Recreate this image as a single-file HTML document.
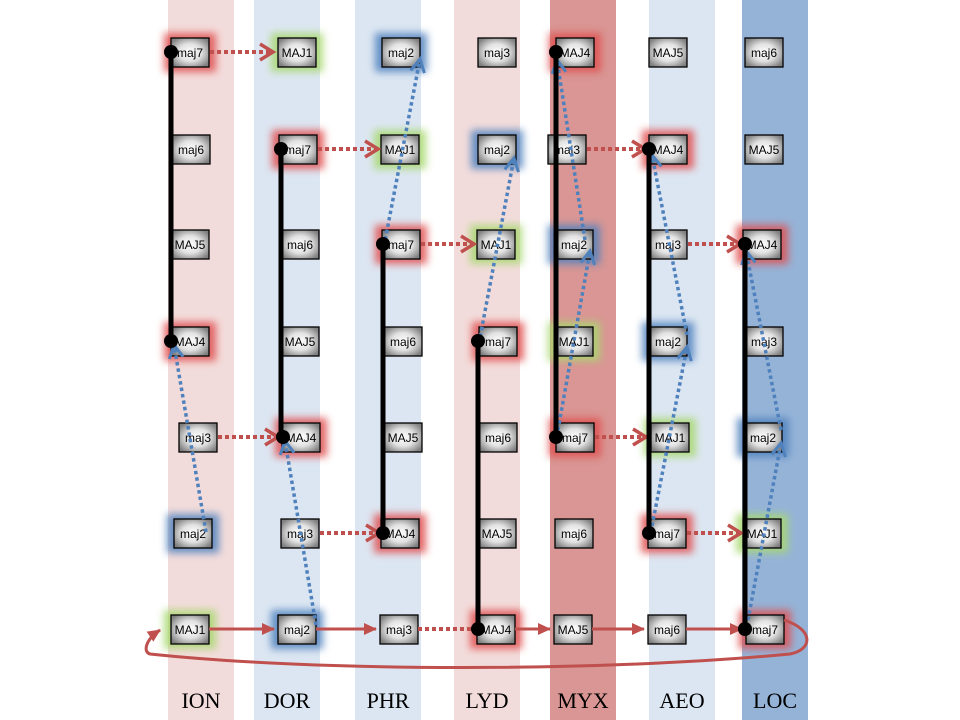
<!DOCTYPE html>
<html><head><meta charset="utf-8"><style>
html,body{margin:0;padding:0;background:#fff;}
svg{display:block;}
text{font-family:"Liberation Sans",sans-serif;}
text.lab{font-family:"Liberation Serif",serif;}
</style></head><body>
<svg width="960" height="720" viewBox="0 0 960 720" xmlns="http://www.w3.org/2000/svg">
<defs>
<radialGradient id="g" cx="50%" cy="50%" r="60%">
<stop offset="0" stop-color="#ffffff"/><stop offset="0.5" stop-color="#e2e2e2"/><stop offset="1" stop-color="#808080"/>
</radialGradient>
<filter id="bl" x="-50%" y="-50%" width="200%" height="200%"><feGaussianBlur stdDeviation="4"/></filter>
<marker id="ar" viewBox="-10 -10 30 30" refX="8" refY="5" markerWidth="30" markerHeight="30" orient="auto" markerUnits="userSpaceOnUse">
<path d="M-5,-3 L8,5 L-5,13" fill="none" stroke="#c0504d" stroke-width="3.5"/></marker>
<marker id="ab" viewBox="-10 -10 30 30" refX="8" refY="5" markerWidth="30" markerHeight="30" orient="auto" markerUnits="userSpaceOnUse">
<path d="M-5,-2 L8,5 L-5,12" fill="none" stroke="#4f81bd" stroke-width="3"/></marker>
<marker id="as" viewBox="-10 -10 30 30" refX="8" refY="5" markerWidth="30" markerHeight="30" orient="auto" markerUnits="userSpaceOnUse">
<path d="M-4,-1 L9,5 L-4,11 Z" fill="#c0504d"/></marker>
</defs>
<rect x="168" y="0" width="66" height="720" fill="#f2dcdb"/>
<rect x="254" y="0" width="66" height="720" fill="#dce6f2"/>
<rect x="355" y="0" width="66" height="720" fill="#dce6f2"/>
<rect x="454" y="0" width="66" height="720" fill="#f2dcdb"/>
<rect x="550" y="0" width="66" height="720" fill="#d99694"/>
<rect x="649" y="0" width="66" height="720" fill="#dce6f2"/>
<rect x="742" y="0" width="66" height="720" fill="#95b3d7"/>
<g filter="url(#bl)" opacity="0.85">
<rect x="164" y="33" width="52" height="39" fill="#e05050"/>
<rect x="164" y="322" width="52" height="39" fill="#e05050"/>
<rect x="167" y="514" width="52" height="39" fill="#4f81bd"/>
<rect x="164" y="610" width="52" height="39" fill="#a8d870"/>
<rect x="271" y="33" width="52" height="39" fill="#a8d870"/>
<rect x="272" y="130" width="52" height="39" fill="#e05050"/>
<rect x="275" y="418" width="52" height="39" fill="#e05050"/>
<rect x="271" y="610" width="52" height="39" fill="#4f81bd"/>
<rect x="375" y="33" width="52" height="39" fill="#4f81bd"/>
<rect x="374" y="130" width="52" height="39" fill="#a8d870"/>
<rect x="375" y="225" width="52" height="39" fill="#e05050"/>
<rect x="374" y="514" width="52" height="39" fill="#e05050"/>
<rect x="471" y="130" width="52" height="39" fill="#4f81bd"/>
<rect x="470" y="225" width="52" height="39" fill="#a8d870"/>
<rect x="472" y="322" width="52" height="39" fill="#e05050"/>
<rect x="470" y="610" width="52" height="39" fill="#e05050"/>
<rect x="549" y="33" width="52" height="39" fill="#e05050"/>
<rect x="548" y="225" width="52" height="39" fill="#4f81bd"/>
<rect x="548" y="322" width="52" height="39" fill="#a8d870"/>
<rect x="549" y="418" width="52" height="39" fill="#e05050"/>
<rect x="642" y="130" width="52" height="39" fill="#e05050"/>
<rect x="642" y="322" width="52" height="39" fill="#4f81bd"/>
<rect x="644" y="418" width="52" height="39" fill="#a8d870"/>
<rect x="641" y="514" width="52" height="39" fill="#e05050"/>
<rect x="736" y="225" width="52" height="39" fill="#e05050"/>
<rect x="737" y="418" width="52" height="39" fill="#4f81bd"/>
<rect x="736" y="514" width="52" height="39" fill="#a8d870"/>
<rect x="739" y="610" width="52" height="39" fill="#e05050"/>
</g>
<g stroke="#000" stroke-width="1.3" fill="url(#g)">
<rect x="171" y="38" width="38" height="29"/><rect x="172" y="135" width="38" height="29"/><rect x="171" y="230" width="38" height="29"/><rect x="171" y="327" width="38" height="29"/><rect x="179" y="423" width="38" height="29"/><rect x="174" y="519" width="38" height="29"/><rect x="171" y="615" width="38" height="29"/>
<rect x="278" y="38" width="38" height="29"/><rect x="279" y="135" width="38" height="29"/><rect x="281" y="230" width="38" height="29"/><rect x="281" y="327" width="38" height="29"/><rect x="282" y="423" width="38" height="29"/><rect x="281" y="519" width="38" height="29"/><rect x="278" y="615" width="38" height="29"/>
<rect x="382" y="38" width="38" height="29"/><rect x="381" y="135" width="38" height="29"/><rect x="382" y="230" width="38" height="29"/><rect x="384" y="327" width="38" height="29"/><rect x="384" y="423" width="38" height="29"/><rect x="381" y="519" width="38" height="29"/><rect x="380" y="615" width="38" height="29"/>
<rect x="478" y="38" width="38" height="29"/><rect x="478" y="135" width="38" height="29"/><rect x="477" y="230" width="38" height="29"/><rect x="479" y="327" width="38" height="29"/><rect x="479" y="423" width="38" height="29"/><rect x="478" y="519" width="38" height="29"/><rect x="477" y="615" width="38" height="29"/>
<rect x="556" y="38" width="38" height="29"/><rect x="548" y="135" width="38" height="29"/><rect x="555" y="230" width="38" height="29"/><rect x="555" y="327" width="38" height="29"/><rect x="556" y="423" width="38" height="29"/><rect x="555" y="519" width="38" height="29"/><rect x="554" y="615" width="38" height="29"/>
<rect x="649" y="38" width="38" height="29"/><rect x="649" y="135" width="38" height="29"/><rect x="649" y="230" width="38" height="29"/><rect x="649" y="327" width="38" height="29"/><rect x="651" y="423" width="38" height="29"/><rect x="648" y="519" width="38" height="29"/><rect x="648" y="615" width="38" height="29"/>
<rect x="745" y="38" width="38" height="29"/><rect x="745" y="135" width="38" height="29"/><rect x="743" y="230" width="38" height="29"/><rect x="745" y="327" width="38" height="29"/><rect x="744" y="423" width="38" height="29"/><rect x="743" y="519" width="38" height="29"/><rect x="746" y="615" width="38" height="29"/>
</g>
<g font-size="12" text-anchor="middle" fill="#000">
<text x="190" y="57">maj7</text><text x="191" y="154">maj6</text><text x="190" y="249">MAJ5</text><text x="190" y="346">MAJ4</text><text x="198" y="442">maj3</text><text x="193" y="538">maj2</text><text x="190" y="634">MAJ1</text>
<text x="297" y="57">MAJ1</text><text x="298" y="154">maj7</text><text x="300" y="249">maj6</text><text x="300" y="346">MAJ5</text><text x="301" y="442">MAJ4</text><text x="300" y="538">maj3</text><text x="297" y="634">maj2</text>
<text x="401" y="57">maj2</text><text x="400" y="154">MAJ1</text><text x="401" y="249">maj7</text><text x="403" y="346">maj6</text><text x="403" y="442">MAJ5</text><text x="400" y="538">MAJ4</text><text x="399" y="634">maj3</text>
<text x="497" y="57">maj3</text><text x="497" y="154">maj2</text><text x="496" y="249">MAJ1</text><text x="498" y="346">maj7</text><text x="498" y="442">maj6</text><text x="497" y="538">MAJ5</text><text x="496" y="634">MAJ4</text>
<text x="575" y="57">MAJ4</text><text x="567" y="154">maj3</text><text x="574" y="249">maj2</text><text x="574" y="346">MAJ1</text><text x="575" y="442">maj7</text><text x="574" y="538">maj6</text><text x="573" y="634">MAJ5</text>
<text x="668" y="57">MAJ5</text><text x="668" y="154">MAJ4</text><text x="668" y="249">maj3</text><text x="668" y="346">maj2</text><text x="670" y="442">MAJ1</text><text x="667" y="538">maj7</text><text x="667" y="634">maj6</text>
<text x="764" y="57">maj6</text><text x="764" y="154">MAJ5</text><text x="762" y="249">MAJ4</text><text x="764" y="346">maj3</text><text x="763" y="442">maj2</text><text x="762" y="538">MAJ1</text><text x="765" y="634">maj7</text>
</g>
<g stroke="#c0504d" stroke-width="3" fill="none">
<line x1="209" y1="629" x2="274" y2="629" marker-end="url(#as)"/>
<line x1="316" y1="629" x2="376" y2="629" marker-end="url(#as)"/>
<line x1="515" y1="629" x2="550" y2="629" marker-end="url(#as)"/>
<line x1="592" y1="629" x2="644" y2="629" marker-end="url(#as)"/>
<line x1="686" y1="629" x2="742" y2="629" marker-end="url(#as)"/>
<path d="M784,620 C815,630 812,650 790,654 C600,672 320,672 150,654 C143,652 145,640 160,630" marker-end="url(#as)"/>
</g>
<g stroke="#c0504d" stroke-width="4" stroke-dasharray="4,3" fill="none">
<line x1="210" y1="52" x2="273" y2="52" marker-end="url(#ar)"/>
<line x1="318" y1="149" x2="378" y2="149" marker-end="url(#ar)"/>
<line x1="421" y1="244" x2="474" y2="244" marker-end="url(#ar)"/>
<line x1="587" y1="149" x2="645" y2="149" marker-end="url(#ar)"/>
<line x1="688" y1="244" x2="740" y2="244" marker-end="url(#ar)"/>
<line x1="218" y1="437" x2="278" y2="437" marker-end="url(#ar)"/>
<line x1="320" y1="533" x2="379" y2="533" marker-end="url(#ar)"/>
<line x1="595" y1="437" x2="646" y2="437" marker-end="url(#ar)"/>
<line x1="687" y1="533" x2="741" y2="533" marker-end="url(#ar)"/>
<line x1="418" y1="629" x2="476" y2="629"/>
</g>
<g stroke="#4f81bd" stroke-width="3.5" stroke-dasharray="3.5,3" fill="none">
<line x1="206" y1="532" x2="174" y2="345" marker-end="url(#ab)"/>
<line x1="316" y1="625" x2="285" y2="441" marker-end="url(#ab)"/>
<line x1="384" y1="246" x2="420" y2="59" marker-end="url(#ab)"/>
<line x1="479" y1="343" x2="514" y2="158" marker-end="url(#ab)"/>
<line x1="558" y1="430" x2="590" y2="251" marker-end="url(#ab)"/>
<line x1="585" y1="240" x2="557" y2="60" marker-end="url(#ab)"/>
<line x1="652" y1="526" x2="687" y2="347" marker-end="url(#ab)"/>
<line x1="687" y1="335" x2="652" y2="155" marker-end="url(#ab)"/>
<line x1="748" y1="620" x2="781" y2="443" marker-end="url(#ab)"/>
<line x1="781" y1="430" x2="746" y2="251" marker-end="url(#ab)"/>
</g>
<g stroke="#000" stroke-width="5">
<line x1="171" y1="52" x2="171" y2="341"/>
<line x1="281" y1="149" x2="281" y2="437"/>
<line x1="383" y1="244" x2="383" y2="533"/>
<line x1="478" y1="341" x2="478" y2="629"/>
<line x1="556" y1="52" x2="556" y2="437"/>
<line x1="649" y1="149" x2="649" y2="533"/>
<line x1="745" y1="244" x2="745" y2="629"/>
</g>
<g fill="#000">
<circle cx="171" cy="52" r="7"/><circle cx="171" cy="341" r="7"/>
<circle cx="281" cy="149" r="7"/><circle cx="283" cy="437" r="7"/>
<circle cx="383" cy="244" r="7"/><circle cx="383" cy="533" r="7"/>
<circle cx="478" cy="341" r="7"/><circle cx="478" cy="629" r="7"/>
<circle cx="556" cy="52" r="7"/><circle cx="556" cy="437" r="7"/>
<circle cx="649" cy="149" r="7"/><circle cx="649" cy="533" r="7"/>
<circle cx="745" cy="244" r="7"/><circle cx="745" cy="629" r="7"/>
</g>
<g font-size="22" text-anchor="middle" fill="#000">
<text class="lab" x="201" y="708">ION</text><text class="lab" x="287" y="708">DOR</text><text class="lab" x="388" y="708">PHR</text><text class="lab" x="487" y="708">LYD</text><text class="lab" x="583" y="708">MYX</text><text class="lab" x="682" y="708">AEO</text><text class="lab" x="775" y="708">LOC</text>
</g>
</svg>
</body></html>
